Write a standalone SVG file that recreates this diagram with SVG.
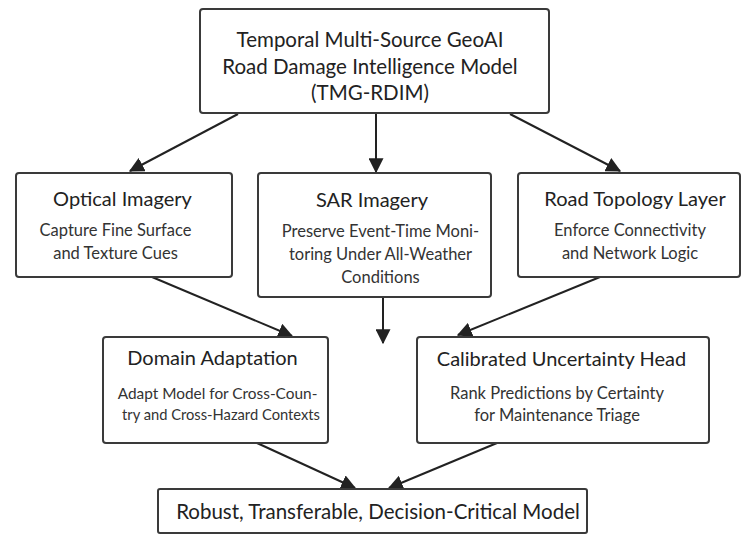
<svg xmlns="http://www.w3.org/2000/svg" width="742" height="536" viewBox="0 0 742 536">
  <defs>
    <marker id="head" viewBox="0 0 12 12" refX="11" refY="6" markerWidth="15" markerHeight="15" markerUnits="userSpaceOnUse" orient="auto">
      <path d="M0,0 L12,6 L0,12 z" fill="#222"/>
    </marker>
  </defs>
  <style>
    .box { fill: #ffffff; stroke: #3a3a3a; stroke-width: 2; }
    .title { font-family: Lato, "Open Sans", sans-serif; font-size: 20.5px; fill: #222; text-anchor: middle; }
    .head { font-family: Lato, "Open Sans", sans-serif; font-size: 20px; fill: #222; text-anchor: middle; }
    .sub { font-family: Lato, "Open Sans", sans-serif; font-size: 16.5px; fill: #333; text-anchor: middle; }
    .sub-tight { font-size: 15.4px; }
    .edge { stroke: #222; stroke-width: 2; fill: none; marker-end: url(#head); }
  </style>
  <rect width="742" height="536" fill="#ffffff"/>

  <g id="connectors">
    <line class="edge" x1="238" y1="114" x2="130" y2="171"/>
    <line class="edge" x1="376" y1="114" x2="376" y2="172"/>
    <line class="edge" x1="510" y1="114" x2="620" y2="171"/>
    <line class="edge" x1="152" y1="277" x2="292" y2="336"/>
    <line class="edge" x1="383" y1="297" x2="383" y2="343"/>
    <line class="edge" x1="600" y1="277" x2="458" y2="335"/>
    <line class="edge" x1="257" y1="443" x2="355" y2="488"/>
    <line class="edge" x1="497" y1="443" x2="389" y2="488"/>
  </g>

  <g id="tmg-rdim">
    <rect class="box" x="200" y="9" width="349" height="104" rx="3"/>
    <text class="title" x="370" y="47">Temporal Multi-Source GeoAI</text>
    <text class="title" x="370" y="74">Road Damage Intelligence Model</text>
    <text class="title" x="370" y="100">(TMG-RDIM)</text>
  </g>

  <g id="optical-imagery">
    <rect class="box" x="16" y="173" width="216" height="104" rx="3"/>
    <text class="head" x="122.5" y="206">Optical Imagery</text>
    <text class="sub" x="115.5" y="236">Capture Fine Surface</text>
    <text class="sub" x="115.5" y="259">and Texture Cues</text>
  </g>

  <g id="sar-imagery">
    <rect class="box" x="258" y="173" width="233" height="124" rx="3"/>
    <text class="head" x="372" y="207">SAR Imagery</text>
    <text class="sub" x="380.5" y="237">Preserve Event-Time Moni-</text>
    <text class="sub" x="380.5" y="260">toring Under All-Weather</text>
    <text class="sub" x="380.5" y="283">Conditions</text>
  </g>

  <g id="road-topology-layer">
    <rect class="box" x="518" y="173" width="222" height="104" rx="3"/>
    <text class="head" x="635" y="206">Road Topology Layer</text>
    <text class="sub" x="630" y="236">Enforce Connectivity</text>
    <text class="sub" x="630" y="259">and Network Logic</text>
  </g>

  <g id="domain-adaptation">
    <rect class="box" x="103" y="337" width="225" height="106" rx="3"/>
    <text class="head" x="212.5" y="365">Domain Adaptation</text>
    <text class="sub sub-tight" x="217.5" y="399">Adapt Model for Cross-Coun-</text>
    <text class="sub sub-tight" x="221" y="420" textLength="198" lengthAdjust="spacingAndGlyphs">try and Cross-Hazard Contexts</text>
  </g>

  <g id="calibrated-uncertainty-head">
    <rect class="box" x="417" y="337" width="292" height="106" rx="3"/>
    <text class="head" x="561.5" y="366">Calibrated Uncertainty Head</text>
    <text class="sub" x="557" y="399">Rank Predictions by Certainty</text>
    <text class="sub" x="557" y="421">for Maintenance Triage</text>
  </g>

  <g id="decision-critical-model">
    <rect class="box" x="158" y="489" width="429" height="44" rx="2"/>
    <text class="title" x="378" y="519">Robust, Transferable, Decision-Critical Model</text>
  </g>
</svg>
